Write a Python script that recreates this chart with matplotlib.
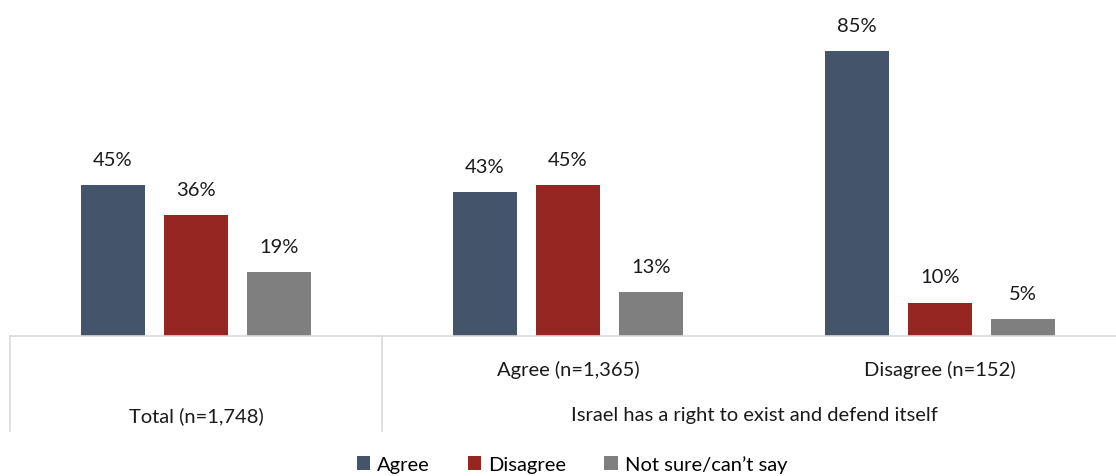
import matplotlib
matplotlib.use("Agg")
import matplotlib.pyplot as plt
import matplotlib.transforms as mtransforms
import numpy as np

plt.rcParams['font.family'] = ['Lato', 'DejaVu Sans']

# data
groups = ['Total (n=1,748)', 'Agree (n=1,365)', 'Disagree (n=152)']
series = ['Agree', 'Disagree', 'Not sure/can\u2019t say']
agree = [45, 43, 85]
disagree = [36, 45, 10]
not_sure = [19, 13, 5]
parent_label = 'Israel has a right to exist and defend itself'

colors = ['#44546A', '#952622', '#7F7F7F']
line_col = '#D9D9D9'
fs = 14.5

W, H = 1116, 477
base = 337
fig = plt.figure(figsize=(W / 100, H / 100), dpi=100)
ax = fig.add_axes([10 / W, 1 - base / H, 1 - 10 / W, base / H])

x = np.arange(len(groups))
width = 0.172
step = 0.223
for i, (vals, name) in enumerate(zip([agree, disagree, not_sure], series)):
    pos = x + (i - 1) * step
    ax.bar(pos, vals, width, color=colors[i], label=name, zorder=2)
    for p, v in zip(pos, vals):
        ax.annotate(f'{v}%', (p, v), xytext=(0, 18.5), textcoords='offset points',
                    ha='center', va='center', fontsize=fs, color='#1a1a1a')

ax.set_xlim(-0.5, -0.5 + (W - 10) / 372)
ax.set_ylim(0, 100 * base / 335)
ax.set_xticks([])
ax.set_yticks([])
for s in ax.spines.values():
    s.set_visible(False)

# category axis lines
trans = mtransforms.blended_transform_factory(ax.transData, ax.transAxes)
ax.plot([-0.5, 3], [0, 0], color=line_col, lw=1.2, transform=trans, clip_on=False)
low = -(430 - 335) / base
for xv in [-0.5, 0.5]:
    ax.plot([xv, xv], [0, low], color=line_col, lw=1.2, transform=trans, clip_on=False)

row1 = -(368 - 335) / base
row2 = -(414 - 335) / base
ax.text(x[0], row2, groups[0], transform=trans, ha='center', va='center', fontsize=fs, color='#1a1a1a')
ax.text(x[1], row1, groups[1], transform=trans, ha='center', va='center', fontsize=fs, color='#1a1a1a')
ax.text(x[2], row1, groups[2], transform=trans, ha='center', va='center', fontsize=fs, color='#1a1a1a')
ax.text(1.5, row2, parent_label, transform=trans, ha='center', va='center', fontsize=fs, color='#1a1a1a')

fig.legend(loc='center', bbox_to_anchor=(572 / W, 1 - 465 / H), ncol=3, frameon=False,
           fontsize=fs, handlelength=0.65, handleheight=0.65, handletextpad=0.35,
           columnspacing=1.9)

fig.savefig('out.png', dpi=100)
